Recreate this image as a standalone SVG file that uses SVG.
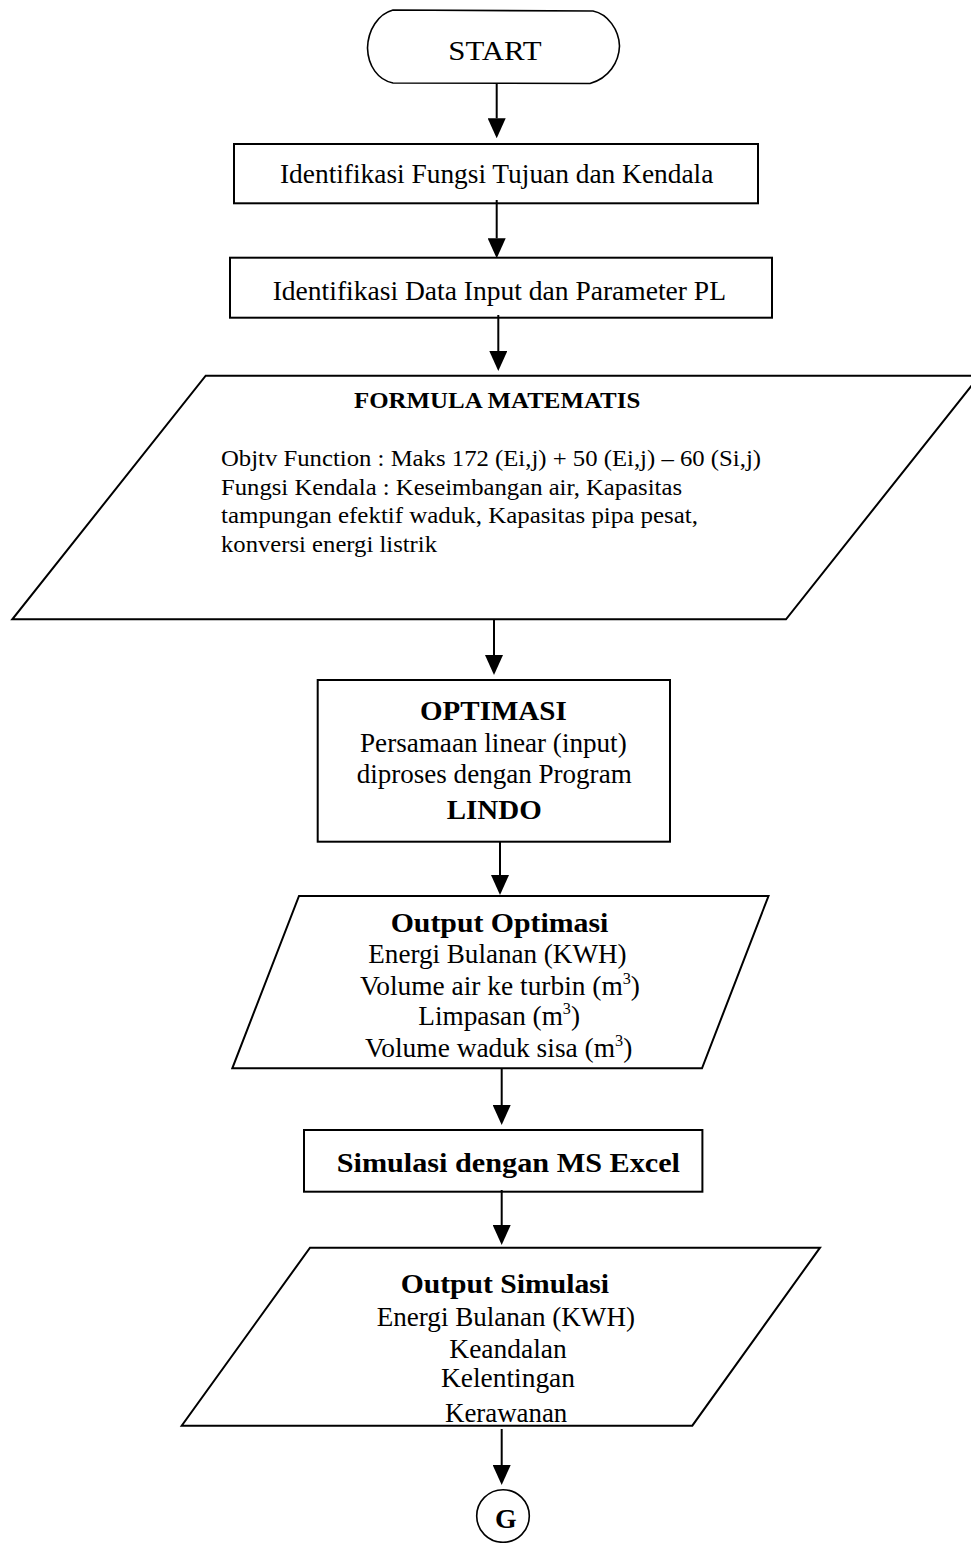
<svg xmlns="http://www.w3.org/2000/svg" width="971" height="1543" viewBox="0 0 971 1543">
<style>
.shape{fill:#fff;stroke:#000;stroke-width:2}
.term{fill:#fff;stroke:#000;stroke-width:1.6}
.t{font-family:"Liberation Serif","Times New Roman",serif;fill:#000;font-size:27px}
.b{font-weight:bold}
.f{font-size:22.5px}
.conn line{stroke:#000;stroke-width:2}
</style>
<defs>
<marker id="ah" markerUnits="userSpaceOnUse" markerWidth="20" markerHeight="18" viewBox="0 0 20 18" refX="0" refY="9" orient="auto">
<path d="M0,0 L20,9 L0,18 Z" fill="#000"/>
</marker>
</defs>
<rect width="971" height="1543" fill="#fff"/>

<g id="start">
<path class="term" d="M393,10 L593,11 C608,14 619,30 619.5,46 C619,62 609,78 590,83.5 L393,83 C378,80 368,66 367.5,48 C368,30 378,14 393,10 Z"/>
<text class="t" x="448.3" y="60" font-size="29" textLength="93.3" lengthAdjust="spacingAndGlyphs">START</text>
</g>

<g id="identifikasi-fungsi">
<rect class="shape" x="234" y="144" width="524" height="59.3"/>
<text class="t" x="280" y="182.7" textLength="433.3" lengthAdjust="spacingAndGlyphs">Identifikasi Fungsi Tujuan dan Kendala</text>
</g>

<g id="identifikasi-data">
<rect class="shape" x="230" y="257.7" width="542" height="60"/>
<text class="t" x="272.7" y="300" textLength="453.3" lengthAdjust="spacingAndGlyphs">Identifikasi Data Input dan Parameter PL</text>
</g>

<g id="formula">
<polygon class="shape" points="205.7,375.7 979.4,375.7 786,619.3 12.3,619.3"/>
<text class="t b f" x="354" y="408" textLength="286.3" lengthAdjust="spacingAndGlyphs">FORMULA MATEMATIS</text>
<text class="t f" x="221" y="466" textLength="540" lengthAdjust="spacingAndGlyphs">Objtv Function : Maks 172 (Ei,j) + 50 (Ei,j) – 60 (Si,j)</text>
<text class="t f" x="221" y="494.5" textLength="461" lengthAdjust="spacingAndGlyphs">Fungsi Kendala : Keseimbangan air, Kapasitas</text>
<text class="t f" x="221" y="523" textLength="477" lengthAdjust="spacingAndGlyphs">tampungan efektif waduk, Kapasitas pipa pesat,</text>
<text class="t f" x="221" y="551.5" textLength="216" lengthAdjust="spacingAndGlyphs">konversi energi listrik</text>
</g>

<g id="optimasi">
<rect class="shape" x="317.7" y="680" width="352.3" height="161.7"/>
<text class="t b" x="420" y="720" font-size="28" textLength="146.7" lengthAdjust="spacingAndGlyphs">OPTIMASI</text>
<text class="t" x="360" y="751.7" textLength="266.7" lengthAdjust="spacingAndGlyphs">Persamaan linear (input)</text>
<text class="t" x="356.7" y="783.3" textLength="275" lengthAdjust="spacingAndGlyphs">diproses dengan Program</text>
<text class="t b" x="446.7" y="819.3" font-size="28" textLength="95" lengthAdjust="spacingAndGlyphs">LINDO</text>
</g>

<g id="output-optimasi">
<polygon class="shape" points="299,896 768.5,896 702,1068.3 232.3,1068.3"/>
<text class="t b" x="390.7" y="931.7" font-size="28" textLength="217.7" lengthAdjust="spacingAndGlyphs">Output Optimasi</text>
<text class="t" x="368.3" y="963.3" textLength="258.3" lengthAdjust="spacingAndGlyphs">Energi Bulanan (KWH)</text>
<text class="t" x="360" y="995" textLength="280" lengthAdjust="spacingAndGlyphs">Volume air ke turbin (m<tspan font-size="16" dy="-11">3</tspan><tspan dy="11">)</tspan></text>
<text class="t" x="418.3" y="1025" textLength="161.7" lengthAdjust="spacingAndGlyphs">Limpasan (m<tspan font-size="16" dy="-11">3</tspan><tspan dy="11">)</tspan></text>
<text class="t" x="365" y="1056.7" textLength="267.3" lengthAdjust="spacingAndGlyphs">Volume waduk sisa (m<tspan font-size="16" dy="-11">3</tspan><tspan dy="11">)</tspan></text>
</g>

<g id="simulasi">
<rect class="shape" x="304" y="1130" width="398.4" height="61.7"/>
<text class="t b" x="336.7" y="1171.7" font-size="29" textLength="343.3" lengthAdjust="spacingAndGlyphs">Simulasi dengan MS Excel</text>
</g>

<g id="output-simulasi">
<polygon class="shape" points="310,1247.7 820,1247.7 692.3,1425.7 181.7,1425.7"/>
<text class="t b" x="400.7" y="1293.3" font-size="28" textLength="208.3" lengthAdjust="spacingAndGlyphs">Output Simulasi</text>
<text class="t" x="376.7" y="1325.7" textLength="258.3" lengthAdjust="spacingAndGlyphs">Energi Bulanan (KWH)</text>
<text class="t" x="449.3" y="1357.7" textLength="117.4" lengthAdjust="spacingAndGlyphs">Keandalan</text>
<text class="t" x="441" y="1387.3" textLength="134" lengthAdjust="spacingAndGlyphs">Kelentingan</text>
<text class="t" x="445" y="1421.7" textLength="122.3" lengthAdjust="spacingAndGlyphs">Kerawanan</text>
</g>

<g id="connector-g">
<circle class="term" cx="503" cy="1516" r="26.3"/>
<text class="t b" x="495" y="1528.3" font-size="28" textLength="21.7" lengthAdjust="spacingAndGlyphs">G</text>
</g>

<g id="connectors" class="conn">
<line x1="496.7" y1="83.5" x2="496.7" y2="118.3" marker-end="url(#ah)"/>
<line x1="496.7" y1="200" x2="496.7" y2="238.3" marker-end="url(#ah)"/>
<line x1="498.3" y1="315" x2="498.3" y2="351" marker-end="url(#ah)"/>
<line x1="494" y1="619.3" x2="494" y2="655" marker-end="url(#ah)"/>
<line x1="500" y1="841.7" x2="500" y2="875" marker-end="url(#ah)"/>
<line x1="501.7" y1="1068.3" x2="501.7" y2="1105" marker-end="url(#ah)"/>
<line x1="501.7" y1="1190" x2="501.7" y2="1225" marker-end="url(#ah)"/>
<line x1="501.7" y1="1429" x2="501.7" y2="1465" marker-end="url(#ah)"/>
</g>
</svg>
